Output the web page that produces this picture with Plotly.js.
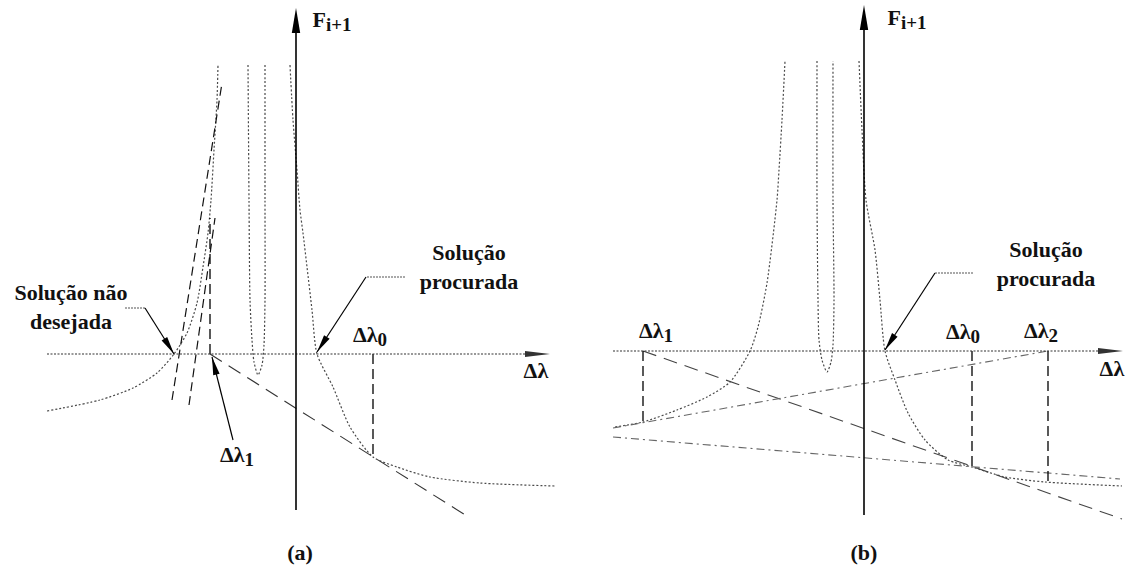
<!DOCTYPE html>
<html><head><meta charset="utf-8">
<script src="https://cdn.plot.ly/plotly-3.0.1.min.js"></script>
<style>html,body{margin:0;padding:0;background:#fff}#chart{width:1131px;height:574px}</style>
</head><body><div id="chart"></div>
<script>
// ---------- Panel (a) : x = Δλ, y = F(i+1), arbitrary units ----------
const aLeftX  = [-24.9,-19.6,-16.3,-13.9,-12.2,-10.9,-9.9,-9.3,-8.8,-8.5,-8.2,-7.9,-7.8];
const aLeftY  = [-5.7,-4.6,-3.4,-1.9,0,2.1,5.1,8.7,12.1,15.4,20.4,25.4,28.9];
const aUX     = [-4.8,-4.7,-4.6,-4.4,-4.2,-3.8,-3.4,-3.2,-3.1,-3.1,-3.1];
const aUY     = [28.9,15.4,5.4,1.4,-0.8,-2.1,-1.1,0.9,5.4,15.4,28.9];
const aRightX = [-0.6,-0.3,0.1,0.4,0.7,1.1,1.6,2.1,3.7,5.4,7.7,10.1,13.4,18.4,25.9];
const aRightY = [28.9,23.4,18.4,14.4,12.1,8.7,4.4,0,-3.3,-7.3,-10.3,-11.3,-12.3,-12.9,-13.2];
const aTangentX = [-8.6,17.4];  const aTangentY = [0,-16.4];
const aSteep1X  = [-12.4,-7.4]; const aSteep1Y  = [-4.6,27.1];
const aSteep2X  = [-10.7,-8.1]; const aSteep2Y  = [-5.1,13.6];
const aVert0X = [7.7,7.7];   const aVert0Y = [0,-10.3];
const aVert1X = [-8.6,-8.6]; const aVert1Y = [0,13.6];
const aAxisX = [-24.9,25.4]; const aAxisY = [-15.6,34.6];

// ---------- Panel (b) ----------
const bLeftX  = [-24.9,-22.1,-18.7,-15.7,-13.4,-11.4,-10.6,-9.7,-8.7,-8.5,-8.2,-7.9];
const bLeftY  = [-7.6,-7.1,-5.9,-4.6,-3.1,0,2.4,6.8,15.1,18.1,23.1,29.0];
const bUX     = [-4.7,-4.7,-4.6,-4.5,-4.2,-3.7,-3.3,-3.1,-3.0,-3.1,-3.1];
const bUY     = [29.0,15.1,5.1,1.1,-0.9,-2.1,-1.1,0.6,5.1,15.1,29.0];
const bRightX = [-0.5,-0.2,0.2,1.1,1.6,2.1,3.1,4.4,6.1,8.4,10.8,14.1,18.1,25.8];
const bRightY = [29.0,22.1,15.1,10.1,5.1,0,-2.9,-6.2,-8.9,-10.9,-11.6,-12.6,-13.1,-13.5];
const bL1X = [-22.1,25.8]; const bL1Y = [0,-16.8];
const bL2X = [-25.1,18.4]; const bL2Y = [-7.7,0];
const bL3X = [-25.1,25.6]; const bL3Y = [-8.6,-12.8];
const bVert1X = [-22.1,-22.1]; const bVert1Y = [0,-7.1];
const bVert0X = [10.8,10.8];   const bVert0Y = [0,-11.6];
const bVert2X = [18.4,18.4];   const bVert2Y = [0,-13.2];
const bAxisX = [-25.1,25.9]; const bAxisY = [-16.4,34.6];

// ---------- Labels ----------
const SUB = s => '<sub><span style="font-size:19px">' + s + '</span></sub>';
const labelsA = [
  {t:'<b>Solução não<br>desejada</b>', x:-22.5, y:4.7, w:140, h:60},
  {t:'<b>Solução<br>procurada</b>', x:17.3, y:8.7, w:120, h:60},
  {t:'<b>Δλ' + SUB('0') + '</b>', x:7.4, y:1.8, w:50, h:30},
  {t:'<b>Δλ' + SUB('1') + '</b>', x:-5.9, y:-10.2, w:50, h:30},
  {t:'<b>Δλ</b>', x:24.0, y:-1.6, w:40, h:28},
  {t:'<b>F' + SUB('i+1') + '</b>', x:3.6, y:33.3, w:56, h:30},
  {t:'<b>(a)</b>', x:0.4, y:-19.8, w:40, h:28}
];
const labelsB = [
  {t:'<b>Solução<br>procurada</b>', x:18.2, y:8.7, w:120, h:60},
  {t:'<b>Δλ' + SUB('1') + '</b>', x:-20.8, y:1.9, w:50, h:30},
  {t:'<b>Δλ' + SUB('0') + '</b>', x:9.9, y:1.8, w:50, h:30},
  {t:'<b>Δλ' + SUB('2') + '</b>', x:17.7, y:1.9, w:50, h:30},
  {t:'<b>Δλ</b>', x:24.8, y:-1.7, w:40, h:28},
  {t:'<b>F' + SUB('i+1') + '</b>', x:4.3, y:33.2, w:56, h:30},
  {t:'<b>(b)</b>', x:0.0, y:-20.1, w:40, h:28}
];
// leader lines: dotted start -> elbow -> arrow tip
const leadersA = [
  {sx:-17.1, sy:4.6, ex:-15.1, ey:4.6, tx:-12.2, ty:0},
  {sx:10.9, sy:7.7, ex:7.0, ey:7.7, tx:2.1, ty:0.2}
];
const leaderA2 = {fx:-6.3, fy:-8.6, tx:-8.4, ty:-0.3};
const leadersB = [
  {sx:10.9, sy:7.8, ex:7.1, ey:7.8, tx:2.1, ty:0.1}
];

const traces = [];
const shapes = [];
const annotations = [];
function line(x, y, xa, ya, color, dash, width, spline) {
  traces.push({x:x, y:y, xaxis:xa, yaxis:ya, type:'scatter', mode:'lines', hoverinfo:'skip',
    showlegend:false, line:{color:color, dash:dash, width:width, shape: spline ? 'spline' : 'linear', smoothing:0.7}});
}
function head(xr, yr, tx, ty, fx, fy, len, hw, color) {
  const dx = tx - fx, dy = ty - fy, L = Math.hypot(dx, dy);
  const ux = dx / L, uy = dy / L;
  const bx = tx - ux * len, by = ty - uy * len;
  const px = -uy * hw, py = ux * hw;
  shapes.push({type:'path', xref:xr, yref:yr, fillcolor:color, line:{width:0},
    path:`M${tx},${ty} L${bx+px},${by+py} L${bx-px},${by-py} Z`});
}
const CURVE = '#4a4a4a', CD = '2px,2px';

// Panel (a)
line(aLeftX, aLeftY, 'x', 'y', CURVE, CD, 1.2, true);
line(aUX, aUY, 'x', 'y', CURVE, CD, 1.2, true);
line(aRightX, aRightY, 'x', 'y', CURVE, CD, 1.2, true);
line(aTangentX, aTangentY, 'x', 'y', '#333', '14px,8px', 1.1);
line(aSteep1X, aSteep1Y, 'x', 'y', '#111', '9px,5px', 1.2);
line(aSteep2X, aSteep2Y, 'x', 'y', '#111', '9px,5px', 1.2);
line(aVert0X, aVert0Y, 'x', 'y', '#000', '10px,5px', 1.3);
line(aVert1X, aVert1Y, 'x', 'y', '#000', '10px,5px', 1.3);
line([aAxisX[0], aAxisX[1]-2], [0,0], 'x', 'y', '#333', '2px,1.5px', 1.2);
line([0,0], [aAxisY[0], aAxisY[1]-2], 'x', 'y', '#000', 'solid', 1.6);
head('x','y', aAxisX[1], 0, aAxisX[0], 0, 2.5, 0.3, '#333');
head('x','y', 0, aAxisY[1], 0, aAxisY[0], 2.5, 0.42, '#000');

// Panel (b)
line(bLeftX, bLeftY, 'x2', 'y2', CURVE, CD, 1.2, true);
line(bUX, bUY, 'x2', 'y2', CURVE, CD, 1.2, true);
line(bRightX, bRightY, 'x2', 'y2', CURVE, CD, 1.2, true);
line(bL1X, bL1Y, 'x2', 'y2', '#444', '14px,8px', 1.1);
line(bL2X, bL2Y, 'x2', 'y2', '#666', '8px,4px,2px,4px', 1.1);
line(bL3X, bL3Y, 'x2', 'y2', '#666', '8px,4px,2px,4px', 1.1);
line(bVert1X, bVert1Y, 'x2', 'y2', '#000', '10px,5px', 1.3);
line(bVert0X, bVert0Y, 'x2', 'y2', '#000', '10px,5px', 1.3);
line(bVert2X, bVert2Y, 'x2', 'y2', '#000', '10px,5px', 1.3);
line([bAxisX[0], bAxisX[1]-2], [0,0], 'x2', 'y2', '#333', '2px,1.5px', 1.2);
line([0,0], [bAxisY[0], bAxisY[1]-2], 'x2', 'y2', '#000', 'solid', 1.6);
head('x2','y2', bAxisX[1], 0, bAxisX[0], 0, 2.5, 0.3, '#333');
head('x2','y2', 0, bAxisY[1], 0, bAxisY[0], 2.5, 0.42, '#000');

// leaders
function leader(L, xa, ya) {
  line([L.sx, L.ex], [L.sy, L.ey], xa, ya, '#555', '2px,1px', 1.1);
  line([L.ex, L.tx], [L.ey, L.ty], xa, ya, '#000', 'solid', 1.2);
  head(xa, ya, L.tx, L.ty, L.ex, L.ey, 1.8, 0.33, '#000');
}
leadersA.forEach(L => leader(L, 'x', 'y'));
leadersB.forEach(L => leader(L, 'x2', 'y2'));
line([leaderA2.fx, leaderA2.tx], [leaderA2.fy, leaderA2.ty], 'x', 'y', '#000', 'solid', 1.2);
head('x','y', leaderA2.tx, leaderA2.ty, leaderA2.fx, leaderA2.fy, 1.8, 0.33, '#000');

const FONT = {family:'Liberation Serif', size:22, color:'#111'};
function addLabels(arr, xr, yr) {
  arr.forEach(l => annotations.push({text:l.t, x:l.x, y:l.y, xref:xr, yref:yr, showarrow:false,
    width:l.w, height:l.h, xanchor:'center', yanchor:'middle', align:'center', valign:'middle', font:FONT}));
}
addLabels(labelsA, 'x', 'y');
addLabels(labelsB, 'x2', 'y2');

const hidden = {visible:false, showgrid:false, zeroline:false, fixedrange:true};
const layout = {
  width:1131, height:574, margin:{l:0,r:0,t:0,b:0},
  paper_bgcolor:'#fff', plot_bgcolor:'#fff', showlegend:false,
  xaxis: Object.assign({domain:[0,0.5], range:[-29.6,26.95], anchor:'y'}, hidden),
  yaxis: Object.assign({domain:[0,1], range:[-22,35.4], anchor:'x'}, hidden),
  xaxis2: Object.assign({domain:[0.5,1], range:[-29.85,26.7], anchor:'y2'}, hidden),
  yaxis2: Object.assign({domain:[0,1], range:[-22.3,35.1], anchor:'x2'}, hidden),
  shapes: shapes, annotations: annotations
};
Plotly.newPlot('chart', traces, layout, {displayModeBar:false});
</script>
</body></html>
